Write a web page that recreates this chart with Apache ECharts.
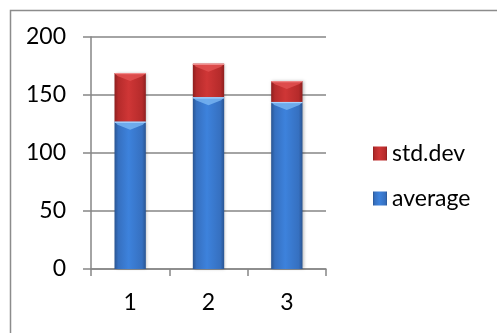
<!DOCTYPE html>
<html>
<head>
<meta charset="utf-8">
<script src="https://cdn.jsdelivr.net/npm/echarts@6/dist/echarts.min.js"></script>
<style>
  html, body { margin: 0; padding: 0; background: #fff; }
  #chart { width: 497px; height: 333px; }
</style>
</head>
<body>
<div id="chart"></div>
<script>
// Sample groups and their summary statistics
const categories = ['1', '2', '3'];
const averageValues = [127, 148, 144];
const stdDevValues = [42, 29, 18];
const yTicks = [0, 50, 100, 150, 200];

const FONT = 'Lato, "Open Sans", sans-serif';
const FONT_SIZE = 23;
const AXIS_GREY = '#868686';

function sideGradient(edge, mid, light) {
  return new echarts.graphic.LinearGradient(0, 0, 1, 0, [
    { offset: 0, color: edge },
    { offset: 0.12, color: mid },
    { offset: 0.45, color: light },
    { offset: 0.88, color: mid },
    { offset: 1, color: edge }
  ]);
}

const blueFill = sideGradient('#2a5592', '#3670c0', '#3d82dc');
const redFill = sideGradient('#8e1f1f', '#b52b2b', '#cf3636');

// Bevel highlight on the top of each stacked segment
function bevelData(bottoms, tops) {
  return categories.map((c, i) => [i, bottoms[i], tops[i]]);
}
const totals = averageValues.map((v, i) => v + stdDevValues[i]);

function makeBevel(light, band) {
  return function (params, api) {
    const top = api.coord([api.value(0), api.value(2)]);
    const bottom = api.coord([api.value(0), api.value(1)]);
    const half = api.size([1, 0])[0] * 0.2;
    const depth = Math.min(8, (bottom[1] - top[1]) * 0.45);
    const x0 = top[0] - half, x1 = top[0] + half, y = top[1];
    return {
      type: 'group',
      children: [
        {
          type: 'polygon',
          shape: { points: [[x0, y], [x1, y], [x1 - 3, y + 3], [top[0], y + depth], [x0 + 3, y + 3]] },
          style: { fill: light, opacity: 0.8 }
        },
        {
          type: 'rect',
          shape: { x: x0, y: y, width: half * 2, height: 1.2 },
          style: { fill: band }
        }
      ]
    };
  };
}

const chart = echarts.init(document.getElementById('chart'), null, { renderer: 'canvas' });

chart.setOption({
  animation: false,
  backgroundColor: '#ffffff',
  grid: { left: 91, right: 171, top: 37, bottom: 64 },
  legend: {
    data: ['std.dev', 'average'],
    orient: 'vertical',
    left: 368,
    top: 137,
    itemWidth: 14,
    itemHeight: 14,
    itemGap: 22,
    icon: 'rect',
    textStyle: { fontFamily: FONT, fontSize: FONT_SIZE, lineHeight: 23, color: '#000' }
  },
  xAxis: {
    type: 'category',
    data: categories,
    axisLine: { lineStyle: { color: AXIS_GREY, width: 1.5 } },
    axisTick: { show: true, length: 7, lineStyle: { color: AXIS_GREY, width: 1.5 } },
    axisLabel: { fontFamily: FONT, fontSize: FONT_SIZE, color: '#000', margin: 22 }
  },
  yAxis: {
    type: 'value',
    min: yTicks[0],
    max: yTicks[yTicks.length - 1],
    interval: 50,
    axisLine: { show: true, lineStyle: { color: AXIS_GREY, width: 1.5 } },
    axisTick: { show: true, length: 8, lineStyle: { color: AXIS_GREY, width: 1.5 } },
    splitLine: { lineStyle: { color: AXIS_GREY, width: 1.5 } },
    axisLabel: { fontFamily: FONT, fontSize: FONT_SIZE, color: '#000', margin: 25 }
  },
  graphic: [
    {
      type: 'rect',
      left: 8, top: 8,
      shape: { width: 600, height: 400 },
      style: { fill: 'none', stroke: '#8c8c8c', lineWidth: 1.5 },
      silent: true
    }
  ],
  series: [
    {
      name: 'average',
      type: 'bar',
      stack: 'total',
      barWidth: '40%',
      data: averageValues,
      itemStyle: { color: blueFill, shadowColor: 'rgba(0,0,0,0.25)', shadowBlur: 3, shadowOffsetX: 1 }
    },
    {
      name: 'std.dev',
      type: 'bar',
      stack: 'total',
      barWidth: '40%',
      data: stdDevValues,
      itemStyle: { color: redFill, shadowColor: 'rgba(0,0,0,0.25)', shadowBlur: 3, shadowOffsetX: 1 }
    },
    {
      name: 'averageBevel',
      type: 'custom',
      silent: true,
      z: 3,
      data: bevelData(averageValues.map(() => 0), averageValues),
      renderItem: makeBevel('#7ab6f2', '#a8d2ff')
    },
    {
      name: 'stdBevel',
      type: 'custom',
      silent: true,
      z: 3,
      data: bevelData(averageValues, totals),
      renderItem: makeBevel('#e25252', '#f08a8a')
    }
  ]
});
</script>
</body>
</html>
